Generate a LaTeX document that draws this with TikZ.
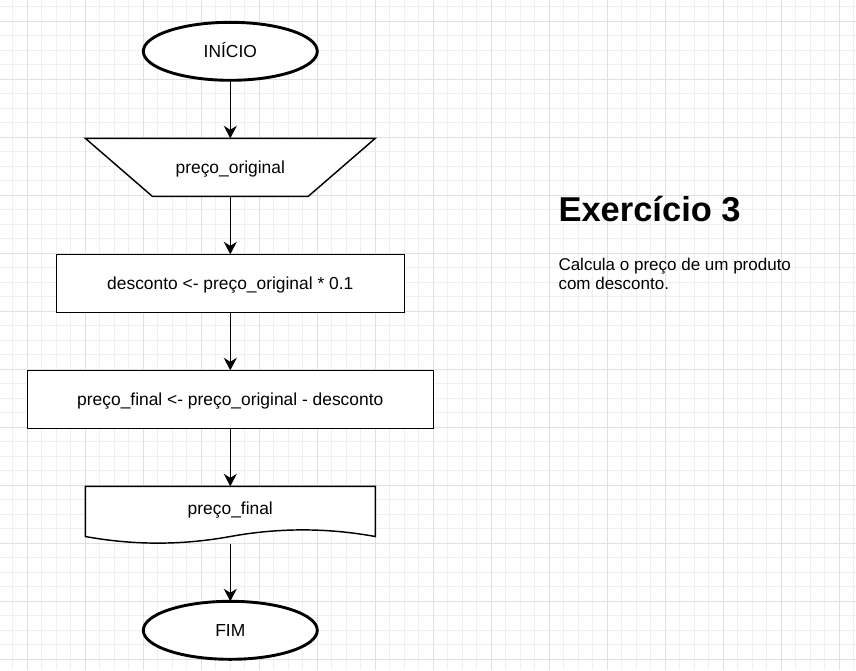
\documentclass[tikz,border=0pt]{standalone}
\usepackage{fontspec}
\setmainfont{Liberation Sans}
\usetikzlibrary{shapes.geometric,arrows.meta}
\definecolor{gridminor}{HTML}{F0F0F0}
\definecolor{gridmajor}{HTML}{E0E0E0}
\tikzset{
  px/.style={x=1pt,y=-1pt},
  txt/.style={font=\fontsize{17.4}{20}\selectfont, text=black, text height=13pt, text depth=0pt},
  terminal/.style={ellipse, draw=black, line width=2.9pt, minimum width=174pt, minimum height=58pt, inner sep=0pt, outer sep=0pt, fill=white, txt},
  procbox/.style={rectangle, draw=black, line width=1.45pt, minimum height=58pt, inner sep=0pt, outer sep=0pt, fill=white, txt},
  holder/.style={rectangle, draw=none, minimum width=290pt, minimum height=58pt, inner sep=0pt, outer sep=0pt},
  outline/.style={draw=black, line width=1.45pt, fill=white, line join=miter},
  flow/.style={draw=black, line width=1.45pt, -{Stealth[length=12.5pt,width=13pt,inset=4pt]}},
}
\begin{document}
\begin{tikzpicture}[px]
\useasboundingbox (0,0) rectangle (856,670);
\fill[white] (0,0) rectangle (856,670);
% grid
\foreach \gx in {0,...,59} { \draw[gridminor, line width=1pt] ({12.8+14.5*\gx},0) -- ({12.8+14.5*\gx},670); }
\foreach \gy in {0,...,46} { \draw[gridminor, line width=1pt] (0,{6.8+14.5*\gy}) -- (856,{6.8+14.5*\gy}); }
\foreach \gx in {0,...,14} { \draw[gridmajor, line width=1pt] ({27.3+58*\gx},0) -- ({27.3+58*\gx},670); }
\foreach \gy in {0,...,11} { \draw[gridmajor, line width=1pt] (0,{21.3+58*\gy}) -- (856,{21.3+58*\gy}); }

% nodes
\node[terminal] (inicio) at (230.3,51.3) {INÍCIO};

\node[holder] (entrada) at (230.3,167.3) {};
\path[outline] (entrada.north west) -- (entrada.north east) -- ([xshift=-67pt]entrada.south east) -- ([xshift=67pt]entrada.south west) -- cycle;
\node[txt] (entradatxt) at (230.3,167.3) {preço\_original};

\node[procbox, minimum width=348pt] (desc) at (230.3,283.3) {desconto <- preço\_original * 0.1};
\node[procbox, minimum width=406pt] (final) at (230.3,399.3) {preço\_final <- preço\_original - desconto};

\node[holder] (doc) at (230.3,515.3) {};
\path[outline] (85.3,486.3) -- (375.3,486.3) -- (375.3,536.5)
  .. controls (327,527.7) and (278.6,527.7) .. (230.3,536.5)
  .. controls (182,545.3) and (133.6,545.3) .. (85.3,536.5) -- cycle;
\node[txt] (doctxt) at (230.3,508.3) {preço\_final};

\node[terminal] (fim) at (230.3,630.3) {FIM};

% connectors
\draw[flow] (inicio) -- (entrada);
\draw[flow] (entrada) -- (desc);
\draw[flow] (desc) -- (final);
\draw[flow] (final) -- (doc);
\draw[flow] (doc) -- (fim);

% side text
\node[anchor=base west, inner sep=0pt, font=\fontsize{34.5}{40}\selectfont\bfseries] (titulo) at (558.3,221.7) {Exercício 3};
\node[anchor=base west, inner sep=0pt, align=left, font=\fontsize{17}{19.5}\selectfont] (descricao) at (558.3,289.5) {Calcula o preço de um produto\\com desconto.};
\end{tikzpicture}
\end{document}
